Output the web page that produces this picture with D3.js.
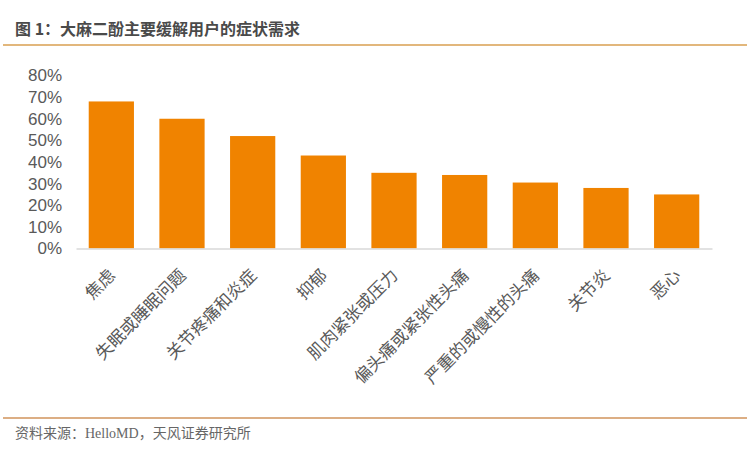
<!DOCTYPE html>
<html>
<head>
<meta charset="utf-8">
<script src="https://cdn.jsdelivr.net/npm/d3@7"></script>
<style>
  body { margin: 0; background: #fff; }
  svg { display: block; }
</style>
</head>
<body>
<div id="chart"></div>
<script>
// 症状类别和占比
var categories = ["焦虑", "失眠或睡眠问题", "关节疼痛和炎症", "抑郁", "肌肉紧张或压力",
    "偏头痛或紧张性头痛", "严重的或慢性的头痛", "关节炎", "恶心"];
var values = [0.68, 0.60, 0.52, 0.43, 0.35, 0.34, 0.305, 0.28, 0.25];
var yTicks = [0, 0.1, 0.2, 0.3, 0.4, 0.5, 0.6, 0.7, 0.8];

var W = 747, H = 453;
var cjk = "'Noto Sans CJK SC', 'Liberation Sans', Arial, sans-serif";

var svg = d3.select("#chart").append("svg")
    .attr("width", W).attr("height", H);

// 标题
svg.append("text")
    .attr("x", 15).attr("y", 35)
    .attr("font-family", cjk)
    .attr("font-size", 16).attr("font-weight", "bold")
    .attr("fill", "#4a4a4a")
    .text("图 1：大麻二酚主要缓解用户的症状需求");

svg.append("line")
    .attr("x1", 3).attr("x2", W).attr("y1", 45).attr("y2", 45)
    .attr("stroke", "#e2b77c").attr("stroke-width", 2);

var x = d3.scaleBand()
    .domain(categories)
    .range([76, 712])
    .paddingInner(0.36)
    .paddingOuter(0.18);

var y = d3.scaleLinear()
    .domain([0, 0.8])
    .range([248.5, 75.5]);

// y轴
var yAxis = d3.axisLeft(y)
    .tickValues(yTicks)
    .tickFormat(d3.format(".0%"))
    .tickSize(0)
    .tickPadding(0);

svg.append("g")
    .attr("transform", "translate(62,0)")
    .call(yAxis)
    .call(function(g) { g.select(".domain").remove(); })
    .selectAll("text")
    .attr("font-family", "'Liberation Sans', Arial, sans-serif")
    .attr("font-size", 17)
    .attr("fill", "#595959");

// 柱子
svg.selectAll(".bar")
    .data(values)
    .enter()
    .append("rect")
    .attr("class", "bar")
    .attr("x", function(d, i) { return x(categories[i]); })
    .attr("width", x.bandwidth())
    .attr("y", function(d) { return y(d); })
    .attr("height", function(d) { return y(0) - y(d); })
    .attr("fill", "#f08300");

// x轴
var xAxis = d3.axisBottom(x).tickSize(0).tickPadding(0);
var gx = svg.append("g")
    .attr("transform", "translate(0," + y(0) + ")")
    .call(xAxis);
gx.select(".domain")
    .attr("stroke", "#d9d9d9")
    .attr("stroke-width", 1.5);
gx.selectAll("text")
    .attr("font-family", cjk)
    .attr("font-size", 17)
    .attr("fill", "#595959")
    .attr("text-anchor", "end")
    .attr("dy", 0)
    .attr("transform", "translate(5,28) rotate(-45)");

// 底部
svg.append("line")
    .attr("x1", 3).attr("x2", W).attr("y1", 418).attr("y2", 418)
    .attr("stroke", "#dcae84").attr("stroke-width", 2);

svg.append("text")
    .attr("x", 15).attr("y", 438)
    .attr("font-family", "'Liberation Serif', 'Noto Sans CJK SC', serif")
    .attr("font-size", 14)
    .attr("fill", "#666")
    .text("资料来源：HelloMD，天风证券研究所");
</script>
</body>
</html>
